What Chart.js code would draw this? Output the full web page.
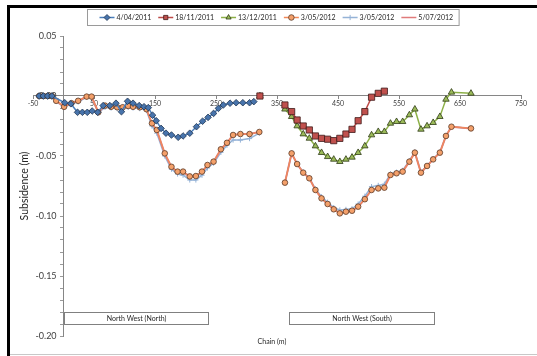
<!DOCTYPE html>
<html>
<head>
<meta charset="utf-8">
<script src="https://cdn.jsdelivr.net/npm/chart.js@4.4.1/dist/chart.umd.min.js"></script>
<style>
  html, body { margin: 0; padding: 0; background: #fff; }
  #wrap { width: 537px; height: 356px; position: relative; }
  canvas { display: block; }
</style>
</head>
<body>
<div id="wrap"><canvas id="chart" width="537" height="356"></canvas></div>
<script>
// ---- Survey data: chainage (m) and subsidence (m) per survey date ----
// null subsidence breaks the line between the North and South sections.

// 4/04/2011
const chain0411 = [-40,-33,-26,-19,2,12,23,31,39,47,56,65,76,86,95,105,114,124,132,139,146,152,160,168,177,188,196,207,218,228,237,246,254,262,273,283,294,305,312];
const subs0411  = [0,0,0,0,-0.0056,-0.0065,-0.0136,-0.0136,-0.0136,-0.0125,-0.0136,-0.0080,-0.0080,-0.0060,-0.0131,-0.0044,-0.0060,-0.0080,-0.0089,-0.0097,-0.0160,-0.0206,-0.0270,-0.0310,-0.0325,-0.0344,-0.0333,-0.0310,-0.0256,-0.0210,-0.0178,-0.0145,-0.0103,-0.0075,-0.0060,-0.0056,-0.0056,-0.0056,-0.0047];

// 18/11/2011
const chain1811 = [322,342,363,374,383,393,403,413,423,433,443,453,463,473,483,494,505,516,526];
const subs1811  = [0,null,-0.0075,-0.0130,-0.0200,-0.0250,-0.0283,-0.0333,-0.0353,-0.0360,-0.0372,-0.0353,-0.0317,-0.0278,-0.0206,-0.0130,-0.0010,0.0022,0.0040];

// 13/12/2011
const chain1312 = [322,342,363,374,383,393,403,413,423,433,443,453,463,473,483,494,505,516,526,536,546,556,567,576,586,596,606,617,627,636,668];
const subs1312  = [0,null,-0.0110,-0.0172,-0.0250,-0.0317,-0.0353,-0.0417,-0.0472,-0.0506,-0.0528,-0.0547,-0.0528,-0.0511,-0.0472,-0.0417,-0.0325,-0.0297,-0.0297,-0.0228,-0.0214,-0.0214,-0.0158,-0.0110,-0.0278,-0.0250,-0.0222,-0.0172,-0.0028,0.0031,0.0022];

// 2012 surveys share the same chainages
const chain2012 = [-40,-33,-26,-19,-12,1,13,24,38,46,57,68,78,88,97,106,114,125,136,145,153,166,177,187,196,207,217,227,236,246,258,268,278,290,305,321,
                   342,
                   363,374,383,393,403,413,423,433,443,453,463,473,483,494,505,516,526,536,546,556,567,576,586,596,606,617,627,636,668];

// 3/05/2012 (circles)
const subs0305a = [0,0,0,0,-0.0040,-0.0090,-0.0060,-0.0040,-0.0005,-0.0005,-0.0136,-0.0080,-0.0090,-0.0094,-0.0094,-0.0083,-0.0090,-0.0094,-0.0110,-0.0228,-0.0283,-0.0478,-0.0590,-0.0630,-0.0630,-0.0670,-0.0667,-0.0630,-0.0575,-0.0547,-0.0444,-0.0390,-0.0325,-0.0317,-0.0317,-0.0300,
                   null,
                   -0.0722,-0.0478,-0.0567,-0.0639,-0.0686,-0.0783,-0.0853,-0.0900,-0.0944,-0.0978,-0.0964,-0.0956,-0.0922,-0.0860,-0.0783,-0.0770,-0.0764,-0.0658,-0.0644,-0.0630,-0.0547,-0.0472,-0.0639,-0.0583,-0.0528,-0.0472,-0.0333,-0.0256,-0.0270];

// 3/05/2012 (crosses)
const subs0305b = [0,0,0,0,-0.0045,-0.0095,-0.0065,-0.0050,-0.0010,-0.0010,-0.0140,-0.0095,-0.0100,-0.0105,-0.0105,-0.0095,-0.0100,-0.0105,-0.0120,-0.0250,-0.0310,-0.0500,-0.0610,-0.0650,-0.0660,-0.0700,-0.0700,-0.0660,-0.0600,-0.0560,-0.0470,-0.0410,-0.0367,-0.0367,-0.0355,-0.0310,
                   null,
                   -0.0722,-0.0478,-0.0567,-0.0635,-0.0680,-0.0775,-0.0840,-0.0885,-0.0930,-0.0950,-0.0945,-0.0940,-0.0900,-0.0835,-0.0755,-0.0745,-0.0735,-0.0650,-0.0635,-0.0620,-0.0540,-0.0465,-0.0635,-0.0580,-0.0525,-0.0470,-0.0333,-0.0256,-0.0270];

// 5/07/2012
const subs0507  = [0,0,0,0,-0.0040,-0.0088,-0.0058,-0.0040,-0.0005,-0.0005,-0.0135,-0.0080,-0.0090,-0.0093,-0.0093,-0.0083,-0.0090,-0.0093,-0.0110,-0.0228,-0.0285,-0.0480,-0.0592,-0.0632,-0.0632,-0.0672,-0.0668,-0.0632,-0.0577,-0.0548,-0.0445,-0.0390,-0.0325,-0.0317,-0.0317,-0.0300,
                   null,
                   -0.0722,-0.0478,-0.0567,-0.0639,-0.0686,-0.0783,-0.0853,-0.0900,-0.0944,-0.0978,-0.0964,-0.0956,-0.0922,-0.0860,-0.0783,-0.0770,-0.0764,-0.0658,-0.0644,-0.0630,-0.0547,-0.0472,-0.0639,-0.0583,-0.0528,-0.0472,-0.0333,-0.0256,-0.0270];

const seriesLabels = ['4/04/2011', '18/11/2011', '13/12/2011', '3/05/2012', '3/05/2012', '5/07/2012'];

// Axis ticks
const xTickValues = [-50, 50, 150, 250, 350, 450, 550, 650, 750];
const yMajorTicks = [0.05, 0.00, -0.05, -0.10, -0.15, -0.20];
const yMinorStep = 0.01;

// Section boxes (chainage extent) shown near the bottom of the plot
const sectionNames = ['North West (North)', 'North West (South)'];
const sectionFrom  = [0, 370];
const sectionTo    = [237, 607];

const FONT = 'Lato, "Open Sans", sans-serif';

function pairs(xs, ys) {
  return xs.map((x, i) => ({ x: x, y: ys[i] }));
}

const yTickValues = [];
for (let v = 0.05; v >= -0.2001; v -= yMinorStep) yTickValues.push(Math.round(v * 100) / 100);

function isMajor(v) {
  return yMajorTicks.some(m => Math.abs(m - v) < 1e-9);
}

function drawMarker(ctx, style, x, y, r) {
  ctx.beginPath();
  if (style === 'rectRot') {
    ctx.moveTo(x, y - r); ctx.lineTo(x + r, y); ctx.lineTo(x, y + r); ctx.lineTo(x - r, y); ctx.closePath();
    ctx.fill(); ctx.stroke();
  } else if (style === 'rect') {
    const h = r * Math.SQRT1_2;
    ctx.rect(x - h, y - h, 2 * h, 2 * h); ctx.fill(); ctx.stroke();
  } else if (style === 'triangle') {
    ctx.moveTo(x, y - r); ctx.lineTo(x + r * 0.866, y + r * 0.5); ctx.lineTo(x - r * 0.866, y + r * 0.5); ctx.closePath();
    ctx.fill(); ctx.stroke();
  } else if (style === 'circle') {
    ctx.arc(x, y, r, 0, Math.PI * 2); ctx.fill(); ctx.stroke();
  } else if (style === 'cross') {
    ctx.moveTo(x - r, y); ctx.lineTo(x + r, y); ctx.moveTo(x, y - r); ctx.lineTo(x, y + r); ctx.stroke();
  }
}

const decorations = {
  id: 'decorations',
  beforeDraw(chart) {
    const { ctx, width, height } = chart;
    ctx.save();
    ctx.fillStyle = '#ffffff';
    ctx.fillRect(0, 0, width, height);
    // outer frame
    ctx.fillStyle = '#000000';
    ctx.fillRect(7, 5, width - 7, 3);
    ctx.fillRect(7, 5, 3, height - 5);
    ctx.fillStyle = '#c8c8c8';
    ctx.fillRect(10, height - 2, width - 10, 1);
    ctx.restore();
  },
  afterDraw(chart) {
    const { ctx } = chart;
    const xs = chart.scales.x, ys = chart.scales.y;
    ctx.save();

    // section boxes
    ctx.font = '7px ' + FONT;
    ctx.textAlign = 'center';
    ctx.textBaseline = 'middle';
    for (let i = 0; i < sectionNames.length; i++) {
      const l = Math.round(xs.getPixelForValue(sectionFrom[i])) + 0.5;
      const r = Math.round(xs.getPixelForValue(sectionTo[i])) + 0.5;
      const t = Math.round(ys.getPixelForValue(-0.18)) + 0.5;
      const b = Math.round(ys.getPixelForValue(-0.19)) + 0.5;
      ctx.fillStyle = '#ffffff';
      ctx.fillRect(l, t, r - l, b - t);
      ctx.strokeStyle = '#808080';
      ctx.lineWidth = 1;
      ctx.strokeRect(l, t, r - l, b - t);
      ctx.fillStyle = '#262626';
      ctx.fillText(sectionNames[i], (l + r) / 2, (t + b) / 2 + 0.5);
    }

    // axis titles
    ctx.fillStyle = '#262626';
    ctx.font = '7px ' + FONT;
    ctx.fillText('Chain (m)', 272, 342);
    ctx.save();
    ctx.translate(25, 186);
    ctx.rotate(-Math.PI / 2);
    ctx.font = '10.5px ' + FONT;
    ctx.fillText('Subsidence (m)', 0, 0);
    ctx.restore();

    // legend
    ctx.font = '7px ' + FONT;
    ctx.textAlign = 'left';
    const ds = chart.data.datasets;
    const lineLen = 15, gapText = 2, gapItem = 7, padL = 12, padR = 6;
    const widths = ds.map(d => ctx.measureText(d.label).width);
    let total = padL + padR;
    widths.forEach((w, i) => { total += lineLen + gapText + w + (i < widths.length - 1 ? gapItem : 0); });
    const cx = 273;
    const boxL = Math.round(cx - total / 2) + 0.5;
    const boxT = 9.5, boxH = 16;
    ctx.strokeStyle = '#9a9a9a';
    ctx.lineWidth = 1;
    ctx.fillStyle = '#ffffff';
    ctx.fillRect(boxL, boxT, total, boxH);
    ctx.strokeRect(boxL, boxT, total, boxH);
    let x = boxL + padL;
    const y = boxT + boxH / 2;
    ds.forEach((d, i) => {
      ctx.strokeStyle = d.borderColor;
      ctx.lineWidth = 1.5;
      ctx.beginPath();
      ctx.moveTo(x, y); ctx.lineTo(x + lineLen, y);
      ctx.stroke();
      if (d.pointRadius > 0) {
        ctx.fillStyle = d.pointBackgroundColor;
        ctx.strokeStyle = d.pointBorderColor;
        ctx.lineWidth = d.pointBorderWidth;
        drawMarker(ctx, d.pointStyle, x + lineLen / 2, y, Math.min(d.pointRadius, 3));
      }
      ctx.fillStyle = '#262626';
      ctx.fillText(d.label, x + lineLen + gapText, y + 0.5);
      x += lineLen + gapText + widths[i] + gapItem;
    });

    ctx.restore();
  }
};

new Chart(document.getElementById('chart'), {
  type: 'line',
  data: {
    datasets: [
      {
        label: seriesLabels[0],
        data: pairs(chain0411, subs0411),
        borderColor: '#4A7EBB', borderWidth: 1.5,
        pointStyle: 'rectRot', pointRadius: 3.3,
        pointBackgroundColor: '#4874AC', pointBorderColor: '#1F3550', pointBorderWidth: 0.8,
        order: 1
      },
      {
        label: seriesLabels[1],
        data: pairs(chain1811, subs1811),
        borderColor: '#BE4B48', borderWidth: 1.5,
        pointStyle: 'rect', pointRadius: 4.4,
        pointBackgroundColor: '#C0504D', pointBorderColor: '#3E1A19', pointBorderWidth: 0.8,
        order: 2
      },
      {
        label: seriesLabels[1 + 1],
        data: pairs(chain1312, subs1312),
        borderColor: '#8DB048', borderWidth: 1.5,
        pointStyle: 'triangle', pointRadius: 3.7,
        pointBackgroundColor: '#9BBB59', pointBorderColor: '#2E3A16', pointBorderWidth: 0.8,
        order: 3
      },
      {
        label: seriesLabels[3],
        data: pairs(chain2012, subs0305a),
        borderColor: '#F08A5A', borderWidth: 1.2,
        pointStyle: 'circle', pointRadius: 2.8,
        pointBackgroundColor: '#F4A06A', pointBorderColor: '#5A3A28', pointBorderWidth: 0.8,
        order: 4
      },
      {
        label: seriesLabels[4],
        data: pairs(chain2012, subs0305b),
        borderColor: '#95B3D7', borderWidth: 1.5,
        pointStyle: 'cross', pointRadius: 2.6,
        pointBackgroundColor: '#95B3D7', pointBorderColor: '#95B3D7', pointBorderWidth: 1,
        order: 6
      },
      {
        label: seriesLabels[5],
        data: pairs(chain2012, subs0507),
        borderColor: '#E07B7B', borderWidth: 2,
        pointRadius: 0,
        order: 5
      }
    ]
  },
  options: {
    responsive: false,
    animation: false,
    devicePixelRatio: 1,
    spanGaps: false,
    layout: { padding: { left: 33, right: 16, top: 36, bottom: 20 } },
    plugins: { legend: { display: false }, tooltip: { enabled: false } },
    elements: { line: { tension: 0 } },
    scales: {
      x: {
        type: 'linear',
        min: -50, max: 750,
        position: { y: 0 },
        afterBuildTicks: s => { s.ticks = xTickValues.map(v => ({ value: v })); },
        afterFit: s => { s.height = 0; },
        ticks: {
          autoSkip: false, maxRotation: 0, padding: 1,
          color: '#404040', font: { family: FONT, size: 7 },
          callback: v => String(v)
        },
        grid: { drawOnChartArea: false, drawTicks: true, tickLength: 3, tickColor: '#868686' },
        border: { color: '#868686', width: 1 }
      },
      y: {
        type: 'linear',
        min: -0.2, max: 0.05,
        position: { x: 0 },
        afterBuildTicks: s => { s.ticks = yTickValues.map(v => ({ value: v })); },
        afterFit: s => { s.width = 0; },
        ticks: {
          autoSkip: false, padding: 4,
          color: '#404040', font: { family: FONT, size: 9 },
          callback: v => isMajor(v) ? v.toFixed(2) + '   ' : ''
        },
        grid: { drawOnChartArea: false, drawTicks: true, tickLength: 3, tickColor: '#9a9a9a' },
        border: { color: '#868686', width: 1 }
      }
    }
  },
  plugins: [decorations]
});
</script>
</body>
</html>
